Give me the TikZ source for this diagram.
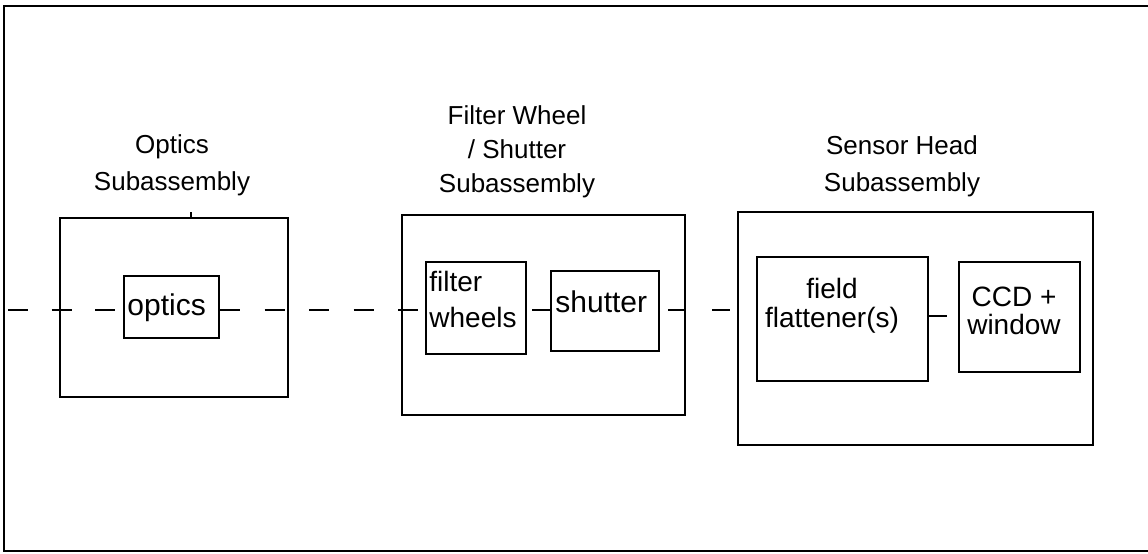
\documentclass[tikz,border=0pt]{standalone}
\usepackage{fontspec}
\setmainfont{Liberation Sans}
\usetikzlibrary{shapes, arrows}
\tikzstyle{assembly} = [rectangle, draw=black, line width=1.1pt, inner sep=0pt, fill=white]
\tikzstyle{part} = [rectangle, draw=black, line width=1.1pt, inner sep=0pt, fill=white]
\tikzstyle{title} = [inner sep=0pt, align=center, font=\fontsize{13}{18.5}\selectfont]
\tikzstyle{partlabel} = [inner sep=0pt, font=\fontsize{14}{18}\selectfont]
\tikzstyle{beam} = [line width=1.1pt]
\tikzstyle{link} = [line width=1.1pt]

\begin{document}
\begin{tikzpicture}[x=0.5pt, y=-0.5pt]
\useasboundingbox (0,0) rectangle (1148,553);
\draw[line width=0.9pt] (1160,6) -- (4,6) -- (4,551) -- (1160,551);

\node(optsub) [assembly, minimum width=114pt, minimum height=89.5pt] at (174,307.5) {};
\node(optics) [part, minimum width=47.5pt, minimum height=31pt] at (171.5,307) {};
\node(fwsub) [assembly, minimum width=141.5pt, minimum height=100pt] at (543.5,315) {};
\node(fw) [part, minimum width=50pt, minimum height=46pt] at (476,308) {};
\node(shutter) [part, minimum width=54pt, minimum height=40pt] at (605,311) {};
\node(shsub) [assembly, minimum width=177.5pt, minimum height=116.5pt] at (915.5,328.5) {};
\node(ff) [part, minimum width=85.5pt, minimum height=62pt] at (842.5,319) {};
\node(ccd) [part, minimum width=60.5pt, minimum height=55pt] at (1019.5,317) {};

\node(optlbl) [title, anchor=south] at (172,196) {Optics\\Subassembly};
\node(fwlbl) [title, anchor=south, font=\fontsize{13}{17}\selectfont] at (517,198) {Filter Wheel\\/ Shutter\\Subassembly};
\node(shlbl) [title, anchor=south] at (902,197) {Sensor Head\\Subassembly};

\node(opttxt) [partlabel, anchor=base west, font=\fontsize{15}{18}\selectfont] at (127,315) {optics};
\node(fwtxt) [partlabel, align=left, anchor=south west] at (429,328) {filter\\wheels};
\node(shuttxt) [partlabel, anchor=base west, font=\fontsize{15}{18}\selectfont] at (555,312) {shutter};
\node(fftxt) [partlabel, align=center, anchor=south, font=\fontsize{14}{14.5}\selectfont] at (832,334) {field\\flattener(s)};
\node(ccdtxt) [partlabel, align=center, anchor=south, font=\fontsize{14}{14}\selectfont] at (1014,335) {CCD +\\window};

\coordinate (edge) at (4,310);
\draw[beam, dash pattern=on 10pt off 11.75pt, dash phase=19.75pt] (edge) -- (edge -| optics.west);
\draw[beam, dash pattern=on 10pt off 12.25pt] (optics.east |- edge) -- (fw.west |- edge);
\draw[beam, dash pattern=on 9pt off 13pt, dash phase=18pt] (shutter.east |- edge) -- (ff.west |- edge);
\draw[link, shorten <=2.5pt] (fw.east |- edge) -- (shutter.west |- edge);
\draw[link, shorten >=5.5pt] ([yshift=1.5pt]ff.east) -- ([yshift=1.5pt]ff.east -| ccd.west);
\draw[link] ([xshift=8.5pt]optsub.north) -- ++(0,-5);
\end{tikzpicture}
\end{document}
